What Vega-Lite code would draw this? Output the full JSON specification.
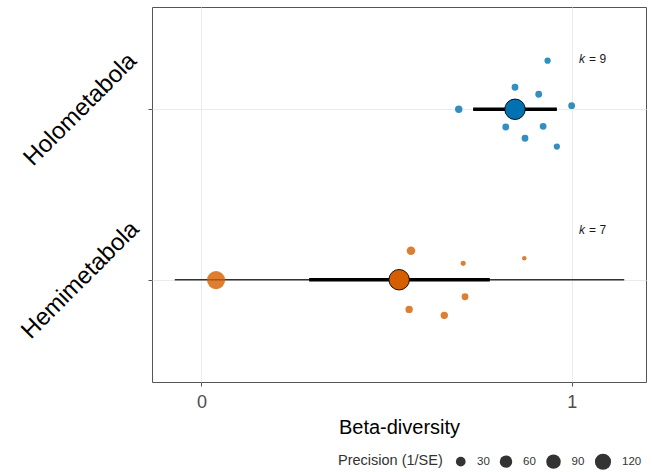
{
  "$schema": "https://vega.github.io/schema/vega-lite/v6.json",
  "width": 494,
  "height": 375,
  "autosize": {"type": "none"},
  "padding": {"left": 152, "top": 7, "right": 6, "bottom": 90},
  "background": "white",
  "config": {
    "font": "Liberation Sans",
    "view": {"stroke": "#555555", "strokeWidth": 1},
    "axis": {"gridColor": "#ebebeb", "gridWidth": 1, "tickColor": "#555555", "tickSize": 4, "domain": false}
  },
  "datasets": {
    "points": [
      {"group": "Holometabola", "est": 0.935, "y": 2.285, "precision": 7.5},
      {"group": "Holometabola", "est": 0.847, "y": 2.129, "precision": 10.2},
      {"group": "Holometabola", "est": 0.911, "y": 2.088, "precision": 10.2},
      {"group": "Holometabola", "est": 0.695, "y": 2.0, "precision": 13.3},
      {"group": "Holometabola", "est": 1.0, "y": 2.021, "precision": 10.2},
      {"group": "Holometabola", "est": 0.822, "y": 1.896, "precision": 10.2},
      {"group": "Holometabola", "est": 0.923, "y": 1.9, "precision": 10.2},
      {"group": "Holometabola", "est": 0.874, "y": 1.83, "precision": 10.2},
      {"group": "Holometabola", "est": 0.96, "y": 1.781, "precision": 7.5},
      {"group": "Hemimetabola", "est": 0.0395, "y": 0.998, "precision": 163},
      {"group": "Hemimetabola", "est": 0.566, "y": 1.17, "precision": 20.8},
      {"group": "Hemimetabola", "est": 0.707, "y": 1.096, "precision": 3.3},
      {"group": "Hemimetabola", "est": 0.712, "y": 0.9, "precision": 10.2},
      {"group": "Hemimetabola", "est": 0.561, "y": 0.826, "precision": 13.3},
      {"group": "Hemimetabola", "est": 0.656, "y": 0.791, "precision": 13.3},
      {"group": "Hemimetabola", "est": 0.872, "y": 1.126, "precision": 1.9}
    ],
    "summary": [
      {"group": "Holometabola", "pos": 2, "est": 0.847, "ci_lb": 0.734, "ci_ub": 0.96, "pi_lb": 0.734, "pi_ub": 0.96, "k": "= 9"},
      {"group": "Hemimetabola", "pos": 1, "est": 0.534, "ci_lb": 0.291, "ci_ub": 0.779, "pi_lb": -0.072, "pi_ub": 1.142, "k": "= 7"}
    ]
  },
  "layer": [
    {
      "data": {"name": "summary"},
      "mark": {"type": "rule", "color": "#333333", "strokeWidth": 1.3},
      "encoding": {
        "x": {"field": "pi_lb", "type": "quantitative", "title": "Beta-diversity",
              "scale": {"domain": [-0.1335, 1.2008], "nice": false, "zero": false},
              "axis": {"values": [0, 1], "labelExpr": "format(datum.value, 'd')", "labelFontSize": 18, "labelColor": "#4d4d4d", "labelPadding": 7,
                       "titleFontSize": 20, "titleFontWeight": "normal", "titleColor": "#000000", "titlePadding": 6}},
        "x2": {"field": "pi_ub"},
        "y": {"field": "pos", "type": "quantitative", "title": null,
              "scale": {"domain": [0.4, 2.6], "nice": false, "zero": false},
              "axis": {"values": [1, 2], "labelExpr": "datum.value == 2 ? 'Holometabola' : 'Hemimetabola'",
                       "labelAngle": -45, "labelAlign": "center", "labelBaseline": "middle", "labelPadding": 68,
                       "labelFontSize": 24, "labelColor": "#000000", "labelOverlap": false, "labelFlush": false}}
      }
    },
    {
      "mark": {"type": "rule", "strokeDash": [5, 5], "color": "#777777", "strokeWidth": 1.5},
      "encoding": {"x": {"datum": 0, "type": "quantitative", "title": "Beta-diversity"}}
    },
    {
      "data": {"name": "summary"},
      "mark": {"type": "rule", "color": "#000000", "strokeWidth": 3.5},
      "encoding": {
        "x": {"field": "ci_lb", "type": "quantitative", "title": "Beta-diversity"},
        "x2": {"field": "ci_ub"},
        "y": {"field": "pos", "type": "quantitative", "title": null}
      }
    },
    {
      "data": {"name": "points"},
      "mark": {"type": "circle", "opacity": 0.8},
      "encoding": {
        "x": {"field": "est", "type": "quantitative", "title": "Beta-diversity"},
        "y": {"field": "y", "type": "quantitative", "title": null},
        "color": {"field": "group", "type": "nominal", "legend": null,
                  "scale": {"domain": ["Holometabola", "Hemimetabola"], "range": ["#0072B2", "#D55E00"]}},
        "size": {"field": "precision", "type": "quantitative",
                 "scale": {"type": "pow", "exponent": 0.79, "domain": [0, 170], "range": [11, 340], "zero": false},
                 "legend": {"title": "Precision (1/SE)", "values": [30, 60, 90, 120], "orient": "none",
                            "legendX": 186, "legendY": 446, "direction": "horizontal",
                            "titleOrient": "left", "titleFontSize": 14.5, "titleFontWeight": "normal", "titleColor": "#333333",
                            "titleBaseline": "middle", "titlePadding": 12,
                            "labelFontSize": 11.5, "labelColor": "#333333", "labelOffset": 10.5, "columnPadding": 9.5,
                            "symbolType": "circle", "symbolFillColor": "#333333", "symbolStrokeColor": "#333333",
                            "symbolStrokeWidth": 0, "symbolOpacity": 1}}
      }
    },
    {
      "data": {"name": "summary"},
      "mark": {"type": "circle", "size": 420, "opacity": 1, "stroke": "#000000", "strokeWidth": 0.9},
      "encoding": {
        "x": {"field": "est", "type": "quantitative", "title": "Beta-diversity"},
        "y": {"field": "pos", "type": "quantitative", "title": null},
        "color": {"field": "group", "type": "nominal", "legend": null}
      }
    },
    {
      "data": {"name": "summary"},
      "mark": {"type": "text", "text": "k", "fontStyle": "italic", "align": "left", "baseline": "middle", "fontSize": 12, "dy": -50, "color": "#1a1a1a"},
      "encoding": {
        "x": {"datum": 1.02, "type": "quantitative"},
        "y": {"field": "pos", "type": "quantitative", "title": null}
      }
    },
    {
      "data": {"name": "summary"},
      "mark": {"type": "text", "align": "left", "baseline": "middle", "fontSize": 12, "dy": -50, "dx": 10, "color": "#1a1a1a"},
      "encoding": {
        "x": {"datum": 1.02, "type": "quantitative"},
        "y": {"field": "pos", "type": "quantitative", "title": null},
        "text": {"field": "k"}
      }
    }
  ]
}
